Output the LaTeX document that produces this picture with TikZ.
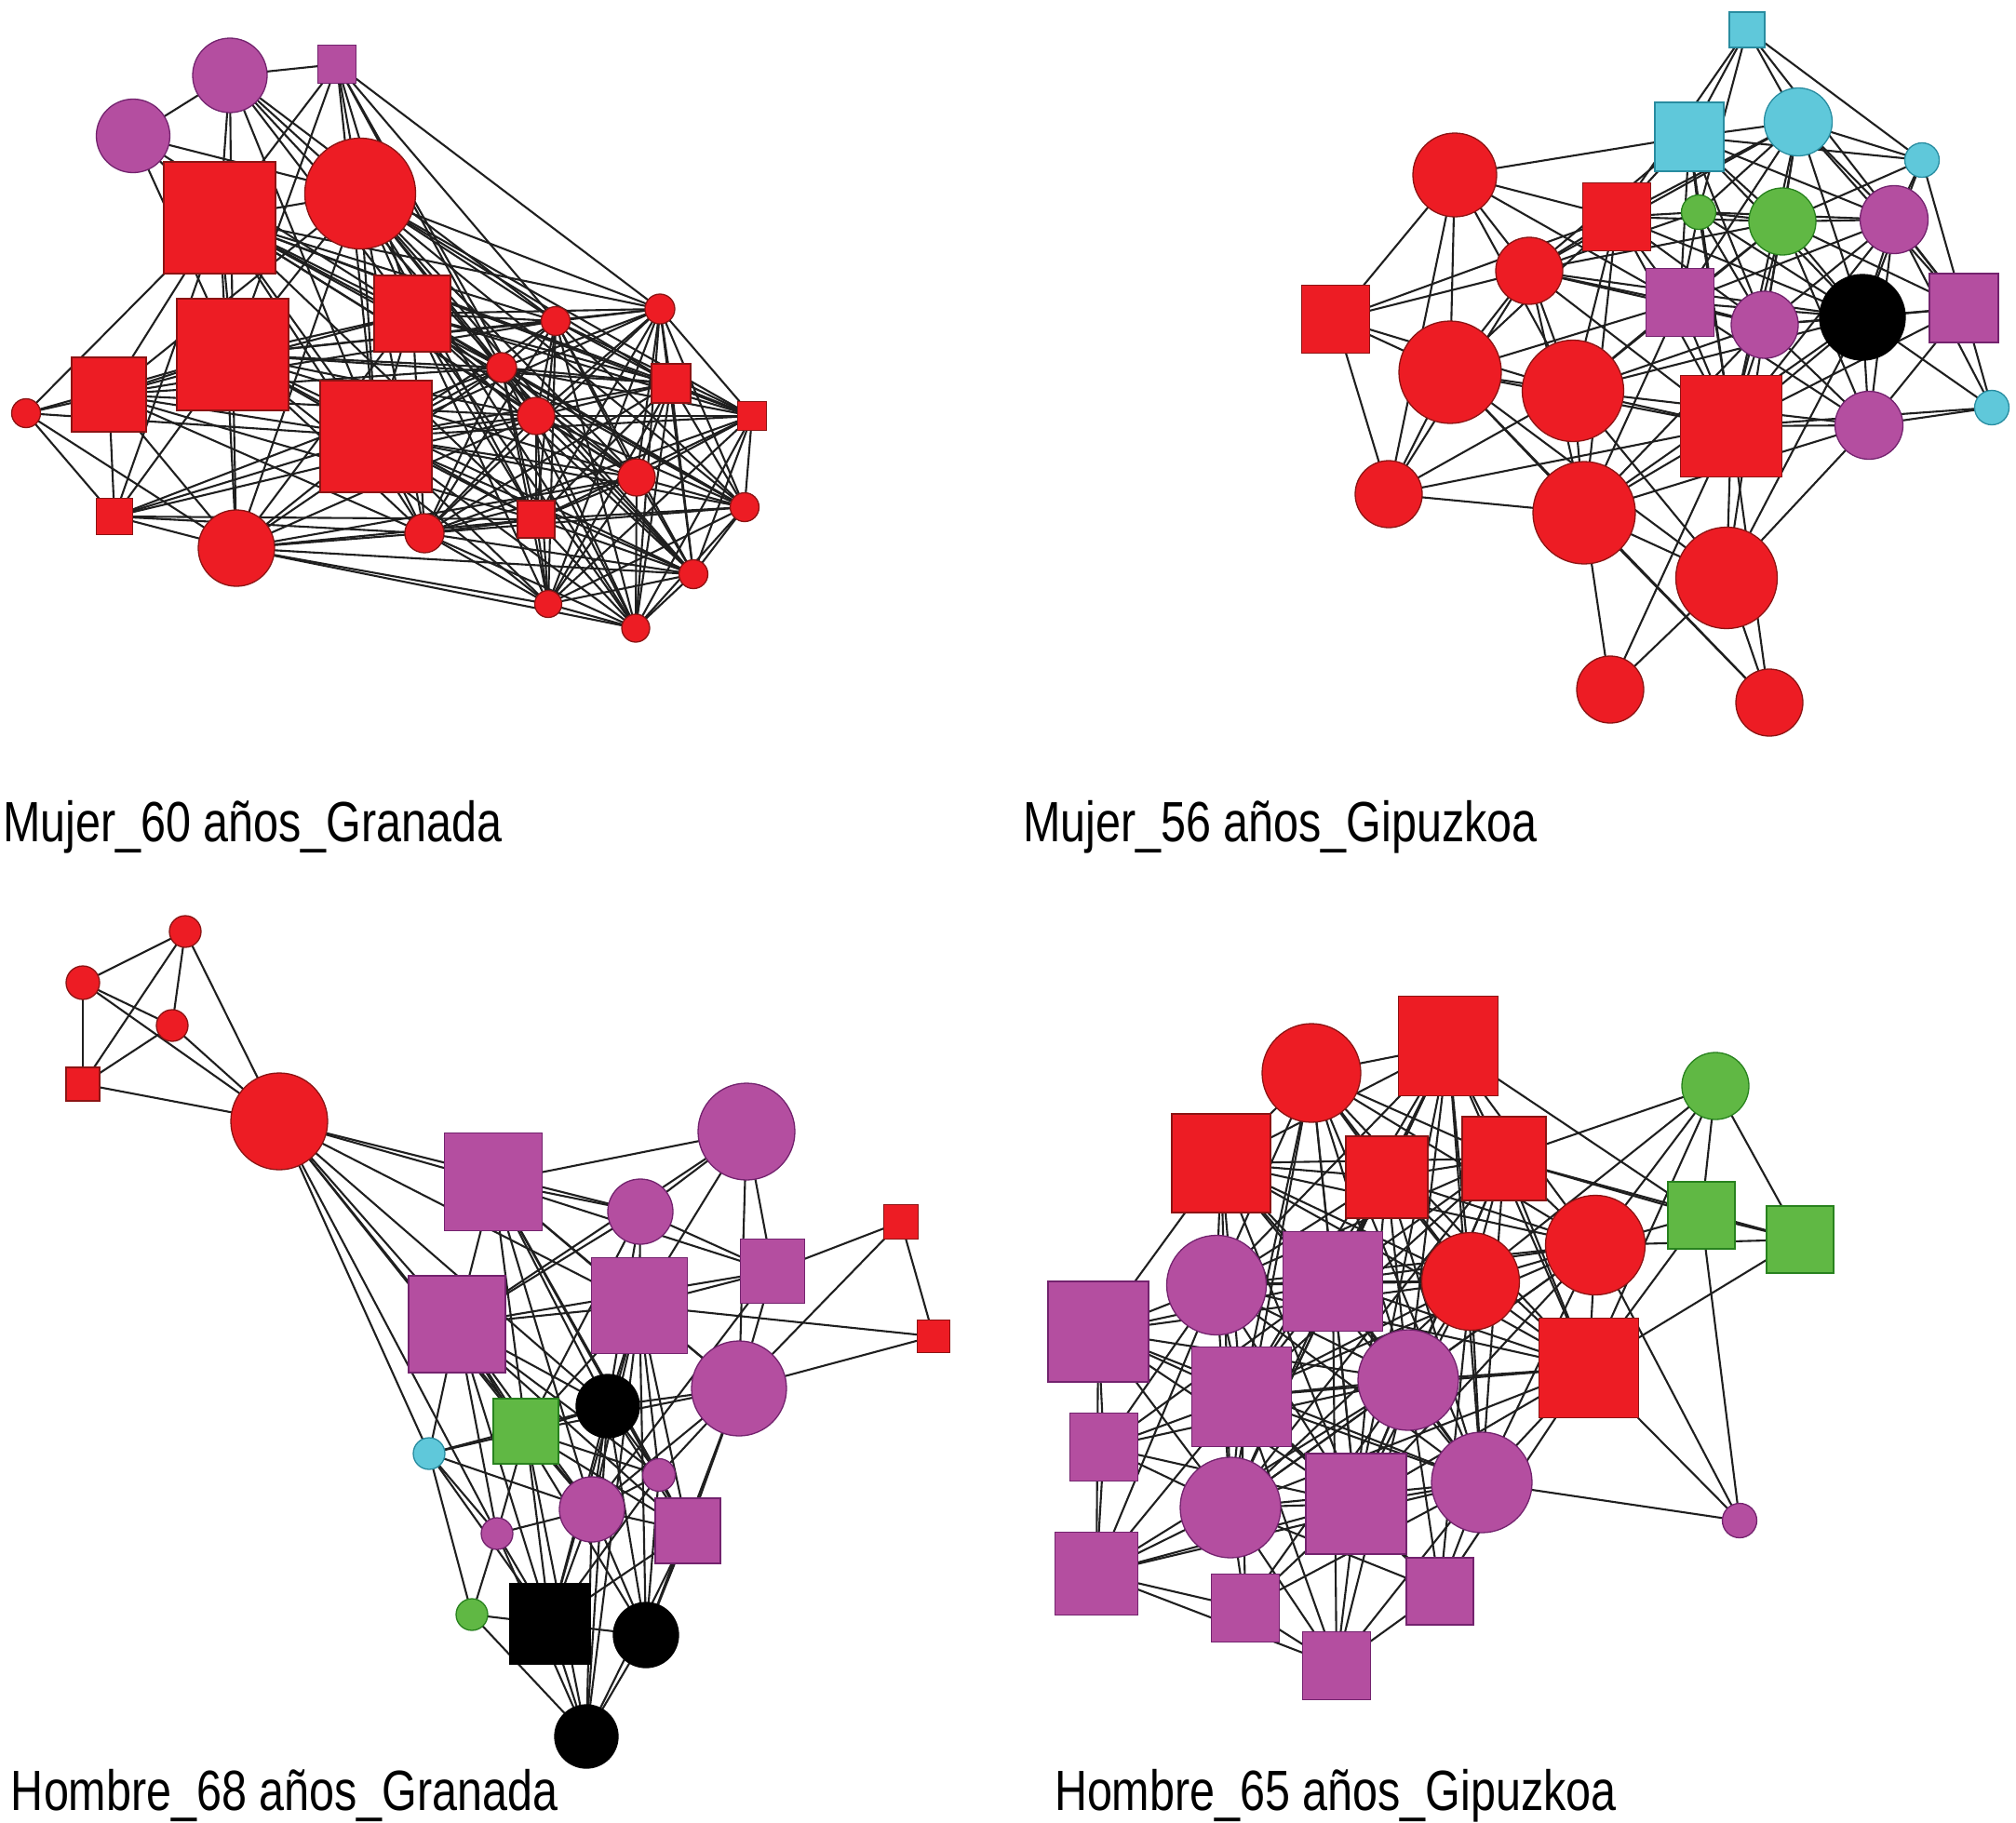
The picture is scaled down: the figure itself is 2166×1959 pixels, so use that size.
\documentclass[tikz,border=0pt]{standalone}
\usepackage{fontspec}
\setmainfont{Liberation Sans}
\usetikzlibrary{backgrounds}
\definecolor{nred}{RGB}{237,28,36}
\definecolor{nredd}{RGB}{140,20,20}
\definecolor{npur}{RGB}{180,78,160}
\definecolor{npurd}{RGB}{115,35,110}
\definecolor{ncya}{RGB}{95,200,218}
\definecolor{ncyad}{RGB}{40,140,160}
\definecolor{ngrn}{RGB}{96,184,68}
\definecolor{ngrnd}{RGB}{40,130,30}
\newcommand{\mkcomplete}[1]{%
  \foreach \u [count=\i] in {#1} {%
    \foreach \v [count=\j] in {#1} {%
      \ifnum\i<\j \draw[lnk] (\u) -- (\v);\fi
    }%
  }%
}
\newcommand{\mkstar}[1]{%
  \foreach \s/\ts in {#1} {%
    \foreach \t in \ts {\draw[lnk] (\s) -- (\t);}%
  }%
}
\tikzset{
  nd/.style={inner sep=0pt, outer sep=0pt, line width=1.3pt},
  rcirc/.style={nd, circle, fill=nred, draw=nredd, minimum size=#1},
  rsq/.style={nd, rectangle, fill=nred, draw=nredd, minimum size=#1},
  pcirc/.style={nd, circle, fill=npur, draw=npurd, minimum size=#1},
  psq/.style={nd, rectangle, fill=npur, draw=npurd, minimum size=#1},
  ccirc/.style={nd, circle, fill=ncya, draw=ncyad, minimum size=#1},
  csq/.style={nd, rectangle, fill=ncya, draw=ncyad, minimum size=#1},
  gcirc/.style={nd, circle, fill=ngrn, draw=ngrnd, minimum size=#1},
  gsq/.style={nd, rectangle, fill=ngrn, draw=ngrnd, minimum size=#1},
  kcirc/.style={nd, circle, fill=black, draw=black, minimum size=#1},
  ksq/.style={nd, rectangle, fill=black, draw=black, minimum size=#1},
  lnk/.style={line width=2.1pt, draw=black!88},
  lbl/.style={inner sep=0pt, outer sep=0pt, anchor=base west, font=\fontsize{61}{70}\selectfont}
}
\begin{document}
\begin{tikzpicture}[x=1pt,y=-1pt]
\useasboundingbox (0,0) rectangle (2166,1959);
% ---------- Graph 1 : Mujer_60 anos_Granada ----------
\node[pcirc=80] (aP1) at (247,81) {};
\node[pcirc=79] (aP2) at (143,146) {};
\node[psq=41] (aP3) at (362,69) {};
\node[rsq=120] (aS1) at (236,234) {};
\node[rcirc=119] (aC1) at (387,208) {};
\node[rsq=120] (aS2) at (250,381) {};
\node[rsq=82] (aS3) at (443,337) {};
\node[rsq=80] (aS4) at (117,424) {};
\node[rcirc=31] (aC2) at (28,444) {};
\node[rsq=120] (aS5) at (404,469) {};
\node[rsq=39] (aS6) at (123,555) {};
\node[rcirc=82] (aC3) at (254,589) {};
\node[rcirc=42] (aC4) at (456,573) {};
\node[rcirc=31] (aC5) at (597,345) {};
\node[rcirc=32] (aC6) at (709,332) {};
\node[rcirc=32] (aC7) at (539,395) {};
\node[rsq=42] (aS7) at (721,412) {};
\node[rcirc=40] (aC8) at (576,447) {};
\node[rsq=31] (aS8) at (808,447) {};
\node[rcirc=40] (aC9) at (684,513) {};
\node[rcirc=31] (aC10) at (800,545) {};
\node[rsq=40] (aS9) at (576,558) {};
\node[rcirc=31] (aC12) at (745,617) {};
\node[rcirc=29] (aC13) at (589,649) {};
\node[rcirc=30] (aC14) at (683,675) {};
% ---------- Graph 2 : Mujer_56 anos_Gipuzkoa ----------
\node[csq=38] (bQ1) at (1877,32) {};
\node[csq=74] (bQ2) at (1815,147) {};
\node[ccirc=73] (bQ3) at (1932,131) {};
\node[ccirc=37] (bQ4) at (2065,172) {};
\node[rcirc=90] (bR1) at (1563,188) {};
\node[rsq=73] (bR2) at (1737,233) {};
\node[gcirc=37] (bG1) at (1825,228) {};
\node[gcirc=72] (bG2) at (1915,238) {};
\node[pcirc=73] (bV1) at (2035,236) {};
\node[rcirc=72] (bR3) at (1643,291) {};
\node[rsq=73] (bR4) at (1435,343) {};
\node[psq=73] (bV2) at (1805,325) {};
\node[pcirc=72] (bV3) at (1896,349) {};
\node[kcirc=92] (bK1) at (2001,341) {};
\node[psq=74] (bV4) at (2110,331) {};
\node[rcirc=110] (bR5) at (1558,400) {};
\node[rcirc=109] (bR6) at (1690,420) {};
\node[rsq=109] (bR7) at (1860,458) {};
\node[pcirc=73] (bV5) at (2008,457) {};
\node[ccirc=37] (bQ5) at (2140,438) {};
\node[rcirc=72] (bR8) at (1492,531) {};
\node[rcirc=110] (bR9) at (1702,551) {};
\node[rcirc=109] (bR10) at (1855,621) {};
\node[rcirc=72] (bR11) at (1730,741) {};
\node[rcirc=72] (bR12) at (1901,755) {};
% ---------- Graph 3 : Hombre_68 anos_Granada ----------
\node[rcirc=34] (cH1) at (199,1001) {};
\node[rcirc=36] (cH2) at (89,1056) {};
\node[rcirc=34] (cH3) at (185,1102) {};
\node[rsq=36] (cH4) at (89,1165) {};
\node[rcirc=104] (cH5) at (300,1205) {};
\node[psq=105] (cH6) at (530,1270) {};
\node[psq=104] (cH7) at (491,1423) {};
\node[pcirc=104] (cH8) at (802,1216) {};
\node[pcirc=70] (cH9) at (688,1302) {};
\node[psq=69] (cH10) at (830,1366) {};
\node[rsq=37] (cH11) at (968,1313) {};
\node[rsq=35] (cH12) at (1003,1436) {};
\node[psq=103] (cH14) at (687,1403) {};
\node[pcirc=102] (cH15) at (794,1492) {};
\node[kcirc=68] (cH16) at (653,1511) {};
\node[gsq=70] (cH17) at (565,1538) {};
\node[ccirc=34] (cH18) at (461,1562) {};
\node[pcirc=35] (cH19) at (708,1585) {};
\node[pcirc=70] (cH20) at (636,1622) {};
\node[pcirc=34] (cH21) at (534,1648) {};
\node[psq=70] (cH22) at (739,1645) {};
\node[gcirc=34] (cH23) at (507,1735) {};
\node[ksq=86] (cH24) at (591,1745) {};
\node[kcirc=70] (cH25) at (694,1757) {};
\node[kcirc=68] (cH26) at (630,1866) {};
% ---------- Graph 4 : Hombre_65 anos_Gipuzkoa ----------
\node[rcirc=106] (dJ1) at (1409,1153) {};
\node[rsq=107] (dJ2) at (1556,1124) {};
\node[gcirc=72] (dJ3) at (1843,1167) {};
\node[rsq=106] (dJ4) at (1312,1250) {};
\node[rsq=88] (dJ5) at (1490,1265) {};
\node[rsq=90] (dJ6) at (1616,1245) {};
\node[gsq=72] (dJ7) at (1828,1306) {};
\node[gsq=72] (dJ8) at (1934,1332) {};
\node[rcirc=107] (dJ9) at (1714,1338) {};
\node[rcirc=105] (dJ10) at (1580,1377) {};
\node[pcirc=107] (dJ11) at (1307,1381) {};
\node[psq=107] (dJ12) at (1432,1377) {};
\node[psq=108] (dJ13) at (1180,1431) {};
\node[rsq=107] (dJ14) at (1707,1470) {};
\node[psq=107] (dJ15) at (1334,1501) {};
\node[pcirc=108] (dJ16) at (1513,1483) {};
\node[psq=73] (dJ17) at (1186,1555) {};
\node[pcirc=108] (dJ18) at (1322,1620) {};
\node[psq=108] (dJ19) at (1457,1616) {};
\node[pcirc=108] (dJ20) at (1592,1593) {};
\node[pcirc=37] (dJ21) at (1869,1634) {};
\node[psq=89] (dJ22) at (1178,1691) {};
\node[psq=73] (dJ23) at (1338,1728) {};
\node[psq=72] (dJ24) at (1547,1710) {};
\node[psq=73] (dJ25) at (1436,1790) {};
% ---------- labels ----------
\node[lbl] (t1) at (3,904) {\scalebox{0.795}[1]{Mujer\_60 años\_Granada}};
\node[lbl] (t2) at (1099,904) {\scalebox{0.795}[1]{Mujer\_56 años\_Gipuzkoa}};
\node[lbl] (t3) at (12,1945) {\scalebox{0.795}[1]{Hombre\_68 años\_Granada}};
\node[lbl] (t4) at (1133,1945) {\scalebox{0.795}[1]{Hombre\_65 años\_Gipuzkoa}};
% ---------- connectors ----------
\begin{pgfonlayer}{background}
\fill[white] (0,0) rectangle (2166,1959);
% graph 1
\mkstar{aP2/{aP1,aS1,aC1,aS3,aS2},
 aP1/{aP3,aS1,aC1,aS2,aS3,aC5,aS5,aC7},
 aP3/{aC1,aS1,aS2,aS3,aC7,aC5,aS5,aC8,aC6},
 aS1/{aC1,aS2,aS3,aS4,aC2,aS5,aC3,aC5,aC6,aC7,aC8,aS7,aS9,aC9,aC4,aS6,aS8,aC10},
 aC1/{aS2,aS3,aS4,aS5,aC5,aC6,aC7,aC8,aS7,aS8,aC9,aC10,aS9,aC4,aC3,aC12,aC14},
 aS2/{aS3,aS4,aC2,aS5,aS6,aC3,aC4,aC5,aC7,aC8,aS9,aC9,aS7,aC13,aC6,aC12},
 aS3/{aS4,aS5,aC3,aC4,aC5,aC6,aC7,aS7,aC8,aS8,aC9,aC10,aS9,aC12,aC13,aC14},
 aS4/{aC2,aS6,aC3,aS5,aC4,aC7,aC8,aS9,aC5},
 aC2/{aS6,aC3,aS5},
 aS5/{aS6,aC3,aC4,aC5,aC6,aC7,aS7,aC8,aS8,aC9,aC10,aS9,aC12,aC13,aC14},
 aS6/{aC3,aC4,aS9,aC8,aC7},
 aC3/{aC4,aS9,aC8,aC9,aC13,aC7,aC12,aC14},
 aC4/{aC5,aC7,aC8,aS7,aC9,aC10,aS9,aC12,aC13,aC14,aS8,aC6}}
\mkcomplete{aC5,aC6,aC7,aS7,aC8,aS8,aC9,aC10,aS9,aC12,aC13,aC14}
% graph 2
\mkstar{bQ1/{bQ2,bQ3,bQ4,bR2,bG1,bV4},
 bR1/{bQ2,bR2,bR3,bR4,bR5,bR6,bR8,bV2},
 bR4/{bR3,bR5,bR6,bR8,bR2},
 bR2/{bQ2,bQ3,bG1,bG2,bR3,bV2,bV3,bR5,bR6,bR7,bR9,bK1},
 bQ2/{bQ3,bG1,bG2,bV1,bV2,bV3,bK1,bR3,bR7,bQ4},
 bQ3/{bQ4,bG1,bG2,bV1,bV2,bV3,bK1,bV4,bR7,bR3},
 bQ4/{bV1,bV4,bG2,bK1},
 bG1/{bG2,bV2,bV3,bK1,bR7,bR3,bV1},
 bG2/{bV1,bV2,bV3,bK1,bV4,bR7,bV5,bR6,bR3},
 bV1/{bK1,bV4,bV3,bV5,bQ5,bR7,bV2},
 bR3/{bR5,bR6,bV2,bR7,bV3,bR8,bR9,bK1},
 bV2/{bV3,bK1,bR7,bR6,bR5,bR9,bV5},
 bV3/{bK1,bR7,bV5,bV4,bR6,bR9,bR10},
 bK1/{bV4,bV5,bQ5,bR7,bR6,bR10,bR9},
 bV4/{bQ5,bV5,bR7},
 bR5/{bR6,bR8,bR9,bR7,bR10,bR12},
 bR6/{bR8,bR9,bR7,bV5,bR10},
 bR7/{bV5,bR9,bR10,bQ5,bR11,bR12,bR8},
 bV5/{bQ5,bR10,bR9},
 bR8/{bR9},
 bR9/{bR10,bR11,bR12},
 bR10/{bR11,bR12}}
% graph 3
\mkstar{cH1/{cH2,cH3,cH4,cH5}, cH2/{cH3,cH4,cH5}, cH3/{cH4,cH5}, cH4/{cH5},
 cH5/{cH6,cH7,cH9,cH14,cH17,cH18,cH16,cH20,cH21},
 cH6/{cH8,cH9,cH14,cH10,cH7,cH17,cH16,cH15,cH20,cH22,cH19},
 cH8/{cH9,cH10,cH14,cH15,cH7},
 cH9/{cH14,cH7,cH10,cH16,cH17},
 cH10/{cH11,cH14,cH7,cH15,cH20},
 cH11/{cH12,cH15},
 cH12/{cH14,cH15},
 cH7/{cH14,cH17,cH18,cH16,cH20,cH21,cH24,cH22,cH19,cH25},
 cH14/{cH16,cH17,cH20,cH22,cH15,cH19,cH24,cH25,cH26},
 cH15/{cH16,cH19,cH20,cH22,cH25,cH17},
 cH16/{cH17,cH20,cH19,cH24,cH25,cH26,cH22},
 cH17/{cH18,cH20,cH21,cH24,cH26,cH22,cH19},
 cH18/{cH21,cH23,cH24,cH20,cH16},
 cH19/{cH20,cH22,cH25,cH24},
 cH20/{cH21,cH22,cH24,cH25,cH26},
 cH21/{cH24,cH23,cH26},
 cH22/{cH25,cH26,cH24},
 cH23/{cH24,cH26},
 cH24/{cH25,cH26},
 cH25/{cH26}}
% graph 4
\mkcomplete{dJ1,dJ2,dJ4,dJ5,dJ6,dJ9,dJ10,dJ11,dJ12,dJ14,dJ15,dJ16,dJ18,dJ19,dJ20}
\mkstar{dJ13/{dJ4,dJ11,dJ12,dJ15,dJ16,dJ17,dJ18,dJ19,dJ22,dJ10,dJ20},
 dJ17/{dJ22,dJ15,dJ18,dJ19,dJ11,dJ16,dJ12},
 dJ22/{dJ18,dJ19,dJ23,dJ25,dJ16,dJ15,dJ20,dJ11},
 dJ23/{dJ18,dJ19,dJ16,dJ20,dJ25,dJ15},
 dJ24/{dJ19,dJ20,dJ16,dJ18,dJ25,dJ14,dJ10,dJ15},
 dJ25/{dJ18,dJ19,dJ20,dJ16,dJ15,dJ12},
 dJ3/{dJ7,dJ8,dJ6,dJ9,dJ14,dJ10},
 dJ7/{dJ8,dJ9,dJ6,dJ2,dJ14,dJ21},
 dJ8/{dJ9,dJ14,dJ6},
 dJ21/{dJ14,dJ9,dJ20}}
\end{pgfonlayer}
\end{tikzpicture}
\end{document}
